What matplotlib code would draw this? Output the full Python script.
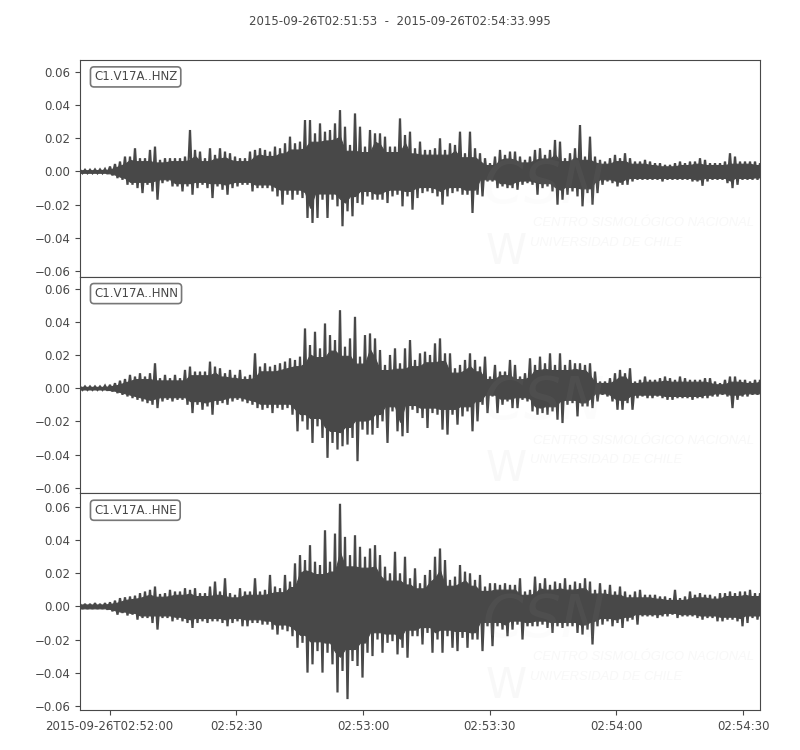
import numpy as np
import matplotlib
matplotlib.use("Agg")
import matplotlib.pyplot as plt

# peak amplitudes per ~1.18 s window, in 1e-3 units
hnz_up = [1,1,1,1.2,1.2,1.5,3,4.5,6,9,9,14,8,8,13,15,7,8,8,8,8,9,25,13,12,8,14,10,14,12,11,9,8,8,12,13,14,13,12,15,14,17,21,17,18,31,31,23,29,24,25,29,37,27,16,35,27,15,25,23,23,21,15,15,32,22,24,14,18,13,13,14,20,13,17,16,24,11,24,14,11,8,5,9,13,10,12,12,9,7,9,13,14,10,13,19,18,8,11,14,28,9,21,9,7,6,8,10,8,11,8,6,6,7,6,5,5,4,4,5,6,5,6,6,8,7,5,5,5,6,11,9,6,6,6,6,5]
hnz_dn = [-1,-1,-1,-1,-1,-1.5,-2.4,-4,-5,-8,-8,-10,-13,-8,-12,-17,-7,-6,-9,-9,-12,-9,-14,-10,-8,-10,-16,-9,-11,-14,-10,-9,-8,-8,-12,-10,-10,-10,-12,-15,-20,-14,-17,-14,-16,-28,-31,-28,-17,-28,-17,-21,-33,-24,-27,-19,-20,-15,-17,-17,-17,-19,-15,-14,-21,-15,-23,-16,-13,-12,-13,-15,-20,-15,-13,-12,-14,-14,-25,-14,-15,-6,-6,-10,-9,-10,-10,-11,-8,-7,-8,-14,-10,-9,-12,-20,-17,-14,-12,-15,-21,-13,-20,-13,-8,-6,-7,-9,-8,-8,-6,-5,-5,-5,-5,-5,-6,-5,-5,-5,-5,-5,-6,-6,-8.6,-6,-5,-5,-5,-7,-10,-8,-5,-5,-5,-5,-4.6]

hnn_up = [1,1,1,1,1,1.5,2,3,4.5,5.5,8,7,9,7,9,15,6,8,6,8,6,11,13,10,10,10,16,13,12,9,11,8,11,7,8,21,13,15,13,14,15,16,18,17,19,36,26,34,24,39,32,29,47,25,30,43,19,32,33,30,23,14,20,24,15,24,29,17,21,22,20,27,30,21,21,12,14,17,21,17,13,19,7,14,10,10,17,14,7,9,18,14,19,15,21,14,21,14,17,15,15,14,15,10,4,4,6,9,11,9,12,4,5,7,5,5,6,7,6,5,7,6,5,5,5,6,6,4,3,5,7,7,5,5,4,5,5]
hnn_dn = [-1,-1,-1,-1,-1,-1.5,-2,-3,-4,-5,-6,-7,-8,-9,-10,-12,-8,-7,-8,-7,-7,-10,-15,-10,-13,-11,-16,-10,-9,-10,-8,-7,-8,-9,-10,-12,-13,-12,-15,-12,-13,-12,-16,-26,-20,-25,-33,-23,-30,-42,-33,-37,-35,-34,-30,-44,-25,-28,-28,-24,-20,-33,-14,-26,-29,-27,-13,-15,-18,-24,-15,-16,-25,-28,-16,-22,-17,-14,-26,-20,-10,-15,-5,-15,-10,-8,-12,-12,-7,-8,-14,-16,-15,-16,-14,-19,-21,-10,-9,-17,-11,-11,-12,-8,-4,-5,-8,-13,-13,-9,-13,-6,-5,-6,-6,-5,-6,-7,-7,-6,-6,-6,-7,-6,-6,-6,-5,-5,-4,-5,-12,-7,-5,-5,-4,-4,-4]

hne_up = [1.5,1.5,1.5,2,1.5,2,2.5,3.5,5,5.5,6,6.5,8,9,10,12,7.5,8,10,9,9,11,10,11,8,8,12,15,9,17,8,7,11,9,9,17,9,10,19,12,11,19,15,26,31,28,37,27,25,46,27,44,62,42,31,43,36,30,35,37,31,24,20,33,20,30,17,23,14,19,22,30,35,28,16,18,25,21,20,16,19,12,14,14,13,14,13,13,17,9,10,18,14,17,13,15,14,17,13,15,14,17,15,10,14,10,13,9,12,9,7,9,10,7,7,7,6,6,5,10,5,6,9,7,8,7,7,6,8,8,9,8,9,9,10,8,8]
hne_dn = [-1.5,-1.5,-1.5,-1.5,-1.5,-2,-3,-5,-4,-5.5,-5,-8,-7,-7,-10,-14,-7,-7,-9,-8,-9,-10,-13,-10,-9,-10,-9,-9,-10,-12,-10,-9,-12,-12,-10,-10,-11,-11,-14,-17,-14,-15,-18,-25,-22,-40,-35,-27,-40,-28,-35,-52,-39,-56,-33,-36,-43,-28,-30,-20,-28,-22,-21,-29,-25,-31,-18,-18,-23,-16,-28,-20,-28,-18,-25,-27,-19,-25,-20,-20,-27,-12,-24,-12,-14,-18,-14,-11,-20,-12,-12,-12,-11,-13,-16,-12,-13,-12,-12,-16,-17,-14,-23,-12,-11,-9,-12,-10,-13,-9,-8,-11,-6,-6,-6,-7,-6,-6,-5,-7,-6,-6,-6,-7,-8,-7,-7,-9,-9,-8,-8,-9,-12,-10,-7,-8,-7]

labels = ["C1.V17A..HNZ", "C1.V17A..HNN", "C1.V17A..HNE"]
ups = [hnz_up, hnn_up, hne_up]
dns = [hnz_dn, hnn_dn, hne_dn]
duration = 160.995
tick_secs = [7, 37, 67, 97, 127, 157]
tick_labels = ["2015-09-26T02:52:00", "02:52:30", "02:53:00", "02:53:30", "02:54:00", "02:54:30"]
yticks = [-0.06, -0.04, -0.02, 0.0, 0.02, 0.04, 0.06]
ylims = [(-0.0634, 0.0672), (-0.0634, 0.0672), (-0.0626, 0.0683)]

dark = "#484848"
plt.rcParams["font.size"] = 8.5
plt.rcParams["text.color"] = dark
plt.rcParams["axes.edgecolor"] = dark
plt.rcParams["xtick.color"] = dark
plt.rcParams["ytick.color"] = dark

fig, axes = plt.subplots(3, 1, figsize=(8, 7.5), dpi=100, sharex=True)
plt.subplots_adjust(left=0.1, right=0.95, top=0.92, bottom=0.0533, hspace=0)

def body(vals):
    # solid part of the trace: part of the smallest neighbouring peak
    out = []
    for k in range(len(vals)):
        out.append(0.78 * min(vals[max(k - 1, 0):k + 2], key=abs))
    return np.array(out)

for i in range(3):
    ax = axes[i]
    up = np.array(ups[i]) / 1000.0
    dn = np.array(dns[i]) / 1000.0
    t = np.linspace(0, duration, len(up))
    half = (t[1] - t[0]) / 2
    tz = np.empty(2 * len(t))
    yz = np.empty(2 * len(t))
    tz[0::2] = t
    tz[1::2] = t + half
    yz[0::2] = up
    yz[1::2] = dn
    ax.fill_between(t, body(up), body(dn), color=dark, lw=0.8, zorder=3)
    ax.plot(tz, yz, color=dark, lw=1.6, solid_joinstyle="miter", zorder=3)
    ax.set_xlim(0, duration)
    ax.set_ylim(ylims[i])
    ax.set_yticks(yticks)
    ax.set_xticks(tick_secs)
    ax.set_xticklabels(tick_labels)
    if i < 2:
        ax.tick_params(axis="x", bottom=False)
    ax.text(0.0206, 0.922, labels[i], transform=ax.transAxes, ha="left", va="center",
            bbox=dict(boxstyle="round,pad=0.3", fc="white", ec="#777777", lw=1.2), zorder=5)

    # faint logo
    dy = i * 217 / 750
    mark = "#f8f8f8"
    ax.text(0.603, 0.73 - dy, "CSN", fontsize=42, style="italic", color="#cccccc", alpha=0.05,
            ha="left", va="baseline", zorder=4, transform=fig.transFigure)
    ax.text(0.607, 0.648 - dy, "W", fontsize=30, color=mark, ha="left", va="baseline",
            zorder=0, transform=fig.transFigure)
    ax.text(0.666, 0.702 - dy, "CENTRO SISMOLÓGICO NACIONAL", fontsize=9.4, style="italic",
            color=mark, ha="left", va="center", zorder=0, family="Liberation Sans",
            transform=fig.transFigure)
    ax.text(0.662, 0.676 - dy, "UNIVERSIDAD DE CHILE", fontsize=9.4, style="italic",
            color=mark, ha="left", va="center", zorder=0, family="Liberation Sans",
            transform=fig.transFigure)

fig.suptitle("2015-09-26T02:51:53  -  2015-09-26T02:54:33.995", fontsize=8.5, x=0.5, y=0.98, color=dark)
plt.savefig("out.png", dpi=100)
